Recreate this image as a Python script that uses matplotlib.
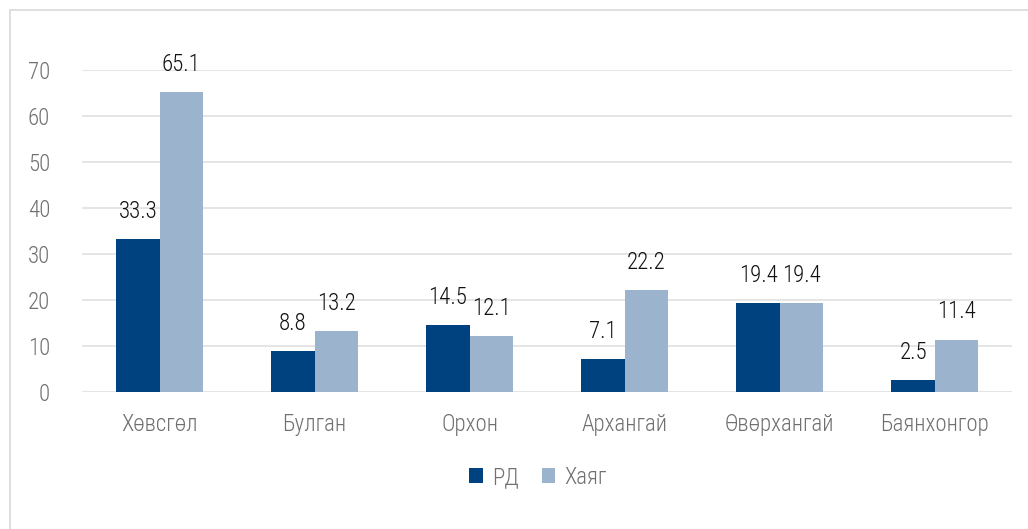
import matplotlib.pyplot as plt
import numpy as np
from matplotlib.patches import Rectangle

plt.rcParams['font.family'] = ['Roboto Condensed', 'Roboto', 'DejaVu Sans']
plt.rcParams['font.weight'] = 'light'

# data
categories = ["Хөвсгөл", "Булган", "Орхон", "Архангай", "Өвөрхангай", "Баянхонгор"]
rd = [33.3, 8.8, 14.5, 7.1, 19.4, 2.5]
khayag = [65.1, 13.2, 12.1, 22.2, 19.4, 11.4]
series_names = ["РД", "Хаяг"]
colors = ["#00427f", "#9bb3cc"]

fig = plt.figure(figsize=(10.28, 5.29), dpi=100)
ax = fig.add_axes([0.0798, 0.259, 0.905, 0.609])

# light frame around the chart
fig.patches.append(Rectangle((10 / 1028, -0.02), 1.0, (519 / 529) + 0.02,
                             transform=fig.transFigure, fill=False,
                             edgecolor="#d9d9d9", linewidth=1.2))

x = np.arange(len(categories))
w = 0.28
b1 = ax.bar(x - w / 2, rd, w, color=colors[0], label=series_names[0])
b2 = ax.bar(x + w / 2, khayag, w, color=colors[1], label=series_names[1])

for bars in (b1, b2):
    for rect in bars:
        h = rect.get_height()
        ax.text(rect.get_x() + rect.get_width() / 2, h + 3.5, f"{h:.1f}",
                ha="center", va="bottom", fontsize=16.5, color="#111111")

ax.set_xlim(-0.5, len(categories) - 0.5)
ax.set_ylim(0, 70)
ax.set_yticks(range(0, 71, 10))
ax.set_xticks(x)
ax.set_xticklabels(categories)
ax.tick_params(axis="both", length=0, labelsize=16.5, labelcolor="#707070")
ax.tick_params(axis="y", pad=23)
ax.tick_params(axis="x", pad=15)
ax.grid(axis="y", color="#e0e0e0", linewidth=1.2)
ax.set_axisbelow(True)
for s in ax.spines.values():
    s.set_visible(False)

leg = ax.legend(loc="upper center", bbox_to_anchor=(0.49, -0.165), ncol=2,
                frameon=False, fontsize=16.5, handlelength=0.6, handleheight=0.6,
                columnspacing=1.0, handletextpad=0.4)
for t in leg.get_texts():
    t.set_color("#707070")

fig.savefig("out.png", dpi=100)
